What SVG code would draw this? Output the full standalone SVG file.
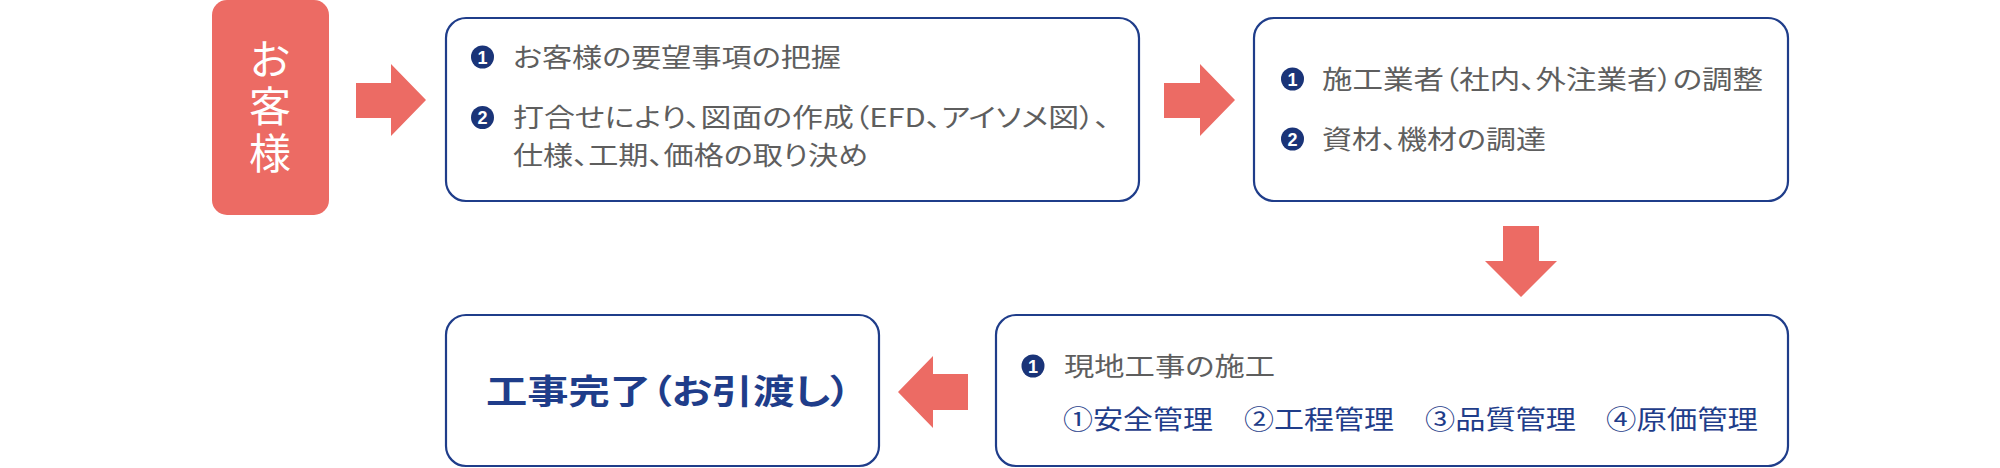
<svg xmlns="http://www.w3.org/2000/svg" width="2000" height="468" viewBox="0 0 2000 468">
<style>
.box{fill:#fff;stroke:#1f3d8a;stroke-width:2.2}
.arrow{fill:#ec6b64}
.t{font-family:"Noto Sans CJK JP","Noto Sans",sans-serif;font-size:26px;fill:#5e5e5e;font-feature-settings:"palt"}
.nv{font-family:"Noto Sans CJK JP","Noto Sans",sans-serif;font-size:26px;fill:#1f3d8a}
.dot{fill:#1a3478}
.dn{font-family:"Liberation Sans",Arial,sans-serif;font-size:18px;font-weight:bold;fill:#fff;text-anchor:middle}
.cust{font-family:"Noto Sans CJK JP",sans-serif;font-size:42px;fill:#fff;writing-mode:vertical-rl;letter-spacing:5px}
.done{font-family:"Noto Sans CJK JP",sans-serif;font-size:34px;font-weight:bold;fill:#1f3d8a;font-feature-settings:"palt"}
</style>
<rect width="2000" height="468" fill="#fff"/>
<g id="connectors">
<polygon class="arrow" points="356,83 391,83 391,64 426,100 391,136 391,118 356,118"/>
<polygon class="arrow" points="1164,83 1200,83 1200,64 1235,100 1200,136 1200,118 1164,118"/>
<polygon class="arrow" points="1503,226 1539,226 1539,261 1557,261 1521,297 1485,261 1503,261"/>
<polygon class="arrow" points="968,374 933,374 933,356 898,392 933,428 933,410 968,410"/>
</g>
<g id="customer">
<rect x="212" y="0" width="117" height="215" rx="15" fill="#ec6b64"/>
<text class="cust" x="270" y="38">お客様</text>
</g>
<g id="consult">
<rect class="box" x="446" y="18" width="693" height="183" rx="20"/>
<circle class="dot" cx="482.5" cy="57" r="11.5"/>
<text class="dn" x="482.5" y="63.5">1</text>
<text class="t" x="513" y="67" textLength="328" lengthAdjust="spacingAndGlyphs">お客様の要望事項の把握</text>
<circle class="dot" cx="482.5" cy="117.5" r="11.5"/>
<text class="dn" x="482.5" y="124">2</text>
<text class="t" x="513" y="127" textLength="597" lengthAdjust="spacingAndGlyphs">打合せにより、図面の作成（EFD、アイソメ図）、</text>
<text class="t" x="513" y="165" textLength="355" lengthAdjust="spacingAndGlyphs">仕様、工期、価格の取り決め</text>
</g>
<g id="arrange">
<rect class="box" x="1254" y="18" width="534" height="183" rx="20"/>
<circle class="dot" cx="1292.5" cy="79" r="11.5"/>
<text class="dn" x="1292.5" y="85.5">1</text>
<text class="t" x="1322" y="89" textLength="441" lengthAdjust="spacingAndGlyphs">施工業者（社内、外注業者）の調整</text>
<circle class="dot" cx="1292.5" cy="139" r="11.5"/>
<text class="dn" x="1292.5" y="145.5">2</text>
<text class="t" x="1322" y="149" textLength="224" lengthAdjust="spacingAndGlyphs">資材、機材の調達</text>
</g>
<g id="construction">
<rect class="box" x="996" y="315" width="792" height="151" rx="20"/>
<circle class="dot" cx="1033" cy="366" r="11.5"/>
<text class="dn" x="1033" y="372.5">1</text>
<text class="t" x="1064" y="376" textLength="211" lengthAdjust="spacingAndGlyphs">現地工事の施工</text>
<text class="nv" x="1063" y="429" textLength="150" lengthAdjust="spacingAndGlyphs">①安全管理</text>
<text class="nv" x="1244" y="429" textLength="150" lengthAdjust="spacingAndGlyphs">②工程管理</text>
<text class="nv" x="1425" y="429" textLength="151" lengthAdjust="spacingAndGlyphs">③品質管理</text>
<text class="nv" x="1606" y="429" textLength="152" lengthAdjust="spacingAndGlyphs">④原価管理</text>
</g>
<g id="complete">
<rect class="box" x="446" y="315" width="433" height="151" rx="20"/>
<text class="done" x="486" y="404" textLength="365" lengthAdjust="spacingAndGlyphs">工事完了（お引渡し）</text>
</g>
</svg>
